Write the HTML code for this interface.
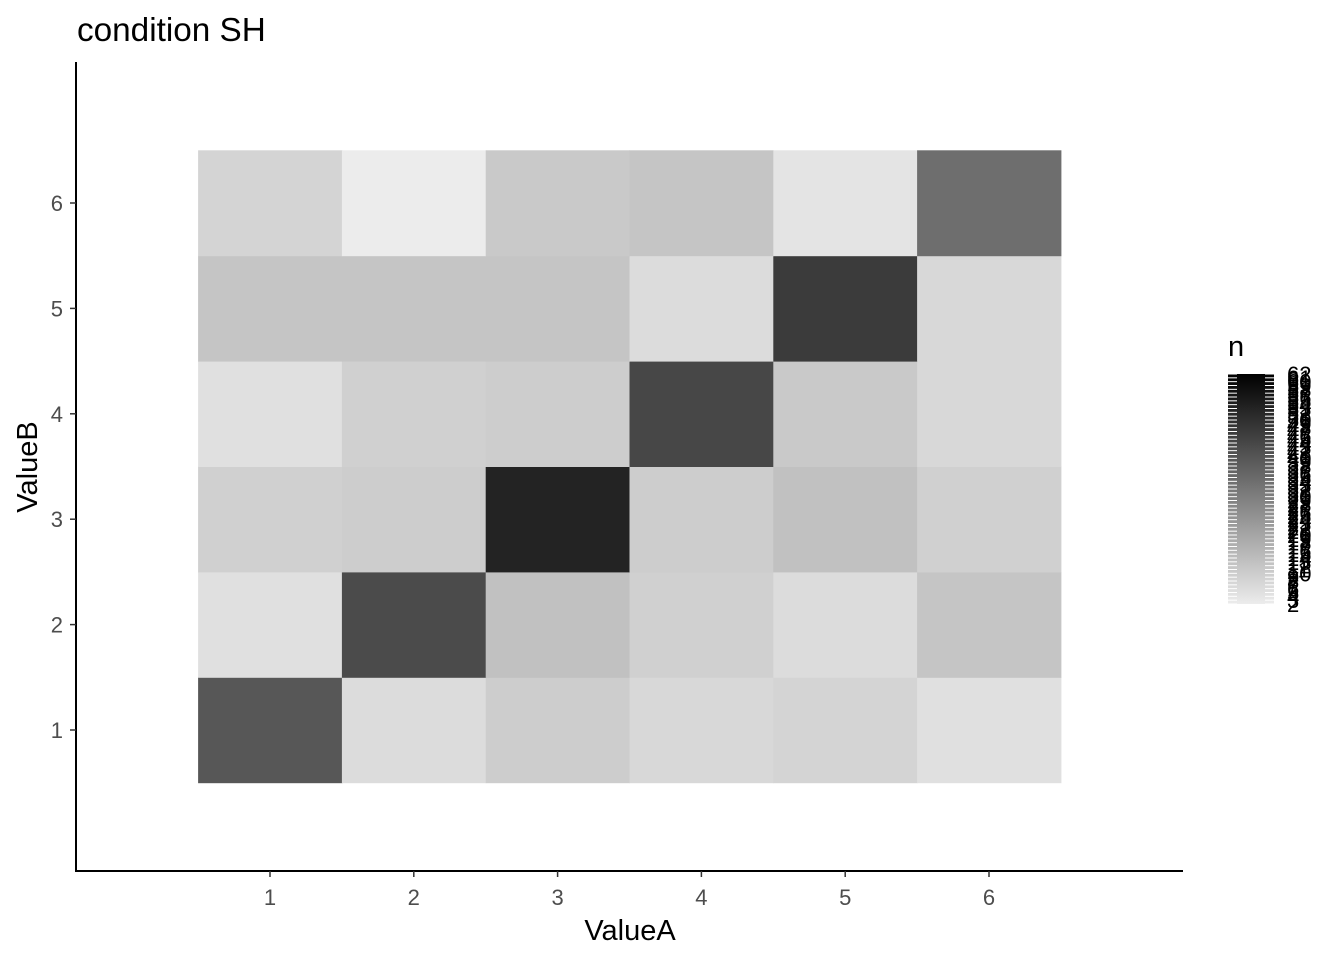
<!DOCTYPE html>
<html><head><meta charset="utf-8"><style>
html,body{margin:0;padding:0;background:#fff;}
svg{display:block;font-family:"Liberation Sans",Arial,sans-serif;}
</style></head><body>
<svg id="chart" width="1344" height="960" viewBox="0 0 1344 960">
<text x="77" y="41" font-size="33.3" fill="#000">condition SH</text>
<g id="tiles"></g>
<line x1="76" y1="62" x2="76" y2="872" stroke="#000" stroke-width="2"/>
<line x1="75" y1="871" x2="1183" y2="871" stroke="#000" stroke-width="2"/>
<g id="axes"></g>
<text x="630" y="940" font-size="29" text-anchor="middle" fill="#000">ValueA</text>
<text transform="translate(37,467) rotate(-90)" font-size="29" text-anchor="middle" fill="#000">ValueB</text>
<text x="1228" y="356" font-size="29" fill="#000">n</text>
<defs><linearGradient id="lg" x1="0" y1="1" x2="0" y2="0">
<stop offset="0" stop-color="#ececec"/><stop offset="1" stop-color="#000"/></linearGradient></defs>
<rect x="1228" y="374" width="46" height="230" fill="url(#lg)"/>
<g id="legend"></g>
</svg>
<script>
const xCats = [1,2,3,4,5,6];
const yCats = [1,2,3,4,5,6];
// rows from y=1 (bottom) to y=6 (top), columns x=1..6
const nValues = [
  [40, 6, 10, 7, 8, 5],
  [5, 43, 13, 9, 6, 12],
  [9, 10, 53, 10, 13, 9],
  [5, 9, 10, 44, 11, 7],
  [12, 12, 12, 6, 47, 7],
  [8, 2, 11, 12, 4, 34]
];
const legendMin = 2, legendMax = 62;
const xTickLabels = ["1","2","3","4","5","6"];
const yTickLabels = ["1","2","3","4","5","6"];

const NS = "http://www.w3.org/2000/svg";
const xScale = v => 270 + (v - 1) * 143.8;
const yScale = v => 730 - (v - 1) * 105.4;
const fill = v => { const g = Math.round(236 - (v - legendMin) / (legendMax - legendMin) * 236); return `rgb(${g},${g},${g})`; };
const lScale = v => 604 - (v - legendMin) / (legendMax - legendMin) * 230;
function mk(tag, attrs, parent){ const e = document.createElementNS(NS, tag); for (const k in attrs) e.setAttribute(k, attrs[k]); parent.appendChild(e); return e; }

const tiles = document.getElementById('tiles');
yCats.forEach((yv, r) => xCats.forEach((xv, c) => {
  const v = nValues[r][c];
  const el = mk('rect', {x: xScale(xv) - 71.9, y: yScale(yv) - 52.7, width: 143.8 + 0.5, height: 105.4 + 0.5, fill: fill(v)}, tiles);
  
  
}));

const axes = document.getElementById('axes');
xCats.forEach((xv, i) => {
  const t = mk('line', {x1: xScale(xv), x2: xScale(xv), y1: 871, y2: 877, stroke: '#333', 'stroke-width': 1.5}, axes);
  
  
  const l = mk('text', {x: xScale(xv), y: 905, 'font-size': 22, fill: '#4d4d4d', 'text-anchor': 'middle'}, axes);
  l.textContent = xTickLabels[i];
  
  
});
yCats.forEach((yv, i) => {
  const t = mk('line', {x1: 70, x2: 76, y1: yScale(yv), y2: yScale(yv), stroke: '#333', 'stroke-width': 1.5}, axes);
  
  
  const l = mk('text', {x: 63, y: yScale(yv) + 8, 'font-size': 22, fill: '#4d4d4d', 'text-anchor': 'end'}, axes);
  l.textContent = yTickLabels[i];
  
  
});

const lg = document.getElementById('legend');
for (let v = legendMin; v <= legendMax; v++) {
  const y = lScale(v);
  const a = mk('line', {x1: 1228, x2: 1237, y1: y, y2: y, stroke: '#fff', 'stroke-width': 1}, lg);
  
  
  const b = mk('line', {x1: 1265, x2: 1274, y1: y, y2: y, stroke: '#fff', 'stroke-width': 1}, lg);
  
  
  const t = mk('text', {x: 1287, y: y + 8, 'font-size': 22, fill: '#000'}, lg);
  t.textContent = String(v);
  
  
}
</script>
</body></html>
